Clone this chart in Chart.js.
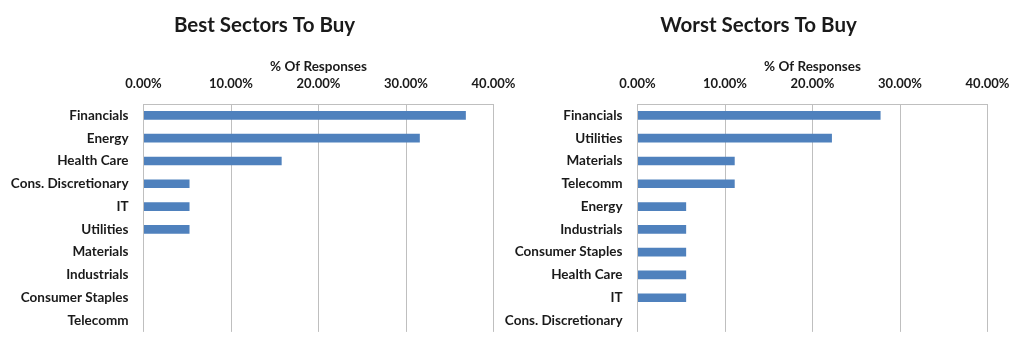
<!DOCTYPE html>
<html>
<head>
<meta charset="utf-8">
<script src="https://cdn.jsdelivr.net/npm/chart.js@4/dist/chart.umd.min.js"></script>
<style>
  html, body { margin: 0; padding: 0; background: #ffffff; }
  body { width: 1024px; height: 355px; position: relative; overflow: hidden; }
  .box { position: absolute; top: 0; width: 529px; height: 355px; }
  #boxBest { left: 0px; }
  #boxWorst { left: 494px; }
</style>
</head>
<body>
<div class="box" id="boxBest"><canvas id="best"></canvas></div>
<div class="box" id="boxWorst"><canvas id="worst"></canvas></div>
<script>
// ---- data ----
const bestTitle = 'Best Sectors To Buy';
const worstTitle = 'Worst Sectors To Buy';
const axisTitle = '% Of Responses';
const xTickLabels = ['0.00%', '10.00%', '20.00%', '30.00%', '40.00%'];

const bestCategories = ['Financials', 'Energy', 'Health Care', 'Cons. Discretionary', 'IT',
  'Utilities', 'Materials', 'Industrials', 'Consumer Staples', 'Telecomm'];
const bestValues = [36.84, 31.58, 15.79, 5.26, 5.26, 5.26, 0, 0, 0, 0];

const worstCategories = ['Financials', 'Utilities', 'Materials', 'Telecomm', 'Energy',
  'Industrials', 'Consumer Staples', 'Health Care', 'IT', 'Cons. Discretionary'];
const worstValues = [27.78, 22.22, 11.11, 11.11, 5.56, 5.56, 5.56, 5.56, 5.56, 0];

// ---- chart ----
const FONT = 'Lato, "Open Sans", sans-serif';
const TEXT = '#1a1a1a';
const GRID = '#bfbfbf';
const BAR = '#4f81bd';

const TITLE_PAD_TOP = 13.5, TITLE_SIZE = 20.5, TITLE_PAD_BOTTOM = 0;
const TITLE_BLOCK = TITLE_PAD_TOP + TITLE_SIZE * 1.2 + TITLE_PAD_BOTTOM;
const PLOT_TOP = 104;

function makeChart(id, title, categories, values) {
  return new Chart(document.getElementById(id), {
    type: 'bar',
    data: {
      labels: categories,
      datasets: [{
        data: values,
        backgroundColor: BAR,
        borderWidth: 0,
        barPercentage: 0.38,
        categoryPercentage: 1.0
      }]
    },
    options: {
      indexAxis: 'y',
      responsive: true,
      maintainAspectRatio: false,
      animation: false,
      layout: { padding: { left: 0, right: 0, top: 0, bottom: 15 } },
      plugins: {
        legend: { display: false },
        tooltip: { enabled: false },
        title: {
          display: true,
          text: title,
          color: TEXT,
          font: { family: FONT, size: TITLE_SIZE, weight: 'bold', lineHeight: 1.2 },
          padding: { top: TITLE_PAD_TOP, bottom: TITLE_PAD_BOTTOM }
        }
      },
      scales: {
        x: {
          position: 'top',
          min: 0,
          max: 40,
          afterBuildTicks: (axis) => {
            axis.ticks = xTickLabels.map((_, i) => ({ value: i * 10 }));
          },
          afterFit: (axis) => { axis.height = PLOT_TOP - TITLE_BLOCK; },
          grid: { color: GRID, lineWidth: 1, drawTicks: false },
          border: { display: true, color: GRID, width: 1 },
          ticks: {
            color: TEXT,
            padding: 12,
            font: { family: FONT, size: 13, weight: 'bold' },
            callback: (v, i) => xTickLabels[i]
          },
          title: {
            display: true,
            text: axisTitle,
            color: TEXT,
            font: { family: FONT, size: 13.5, weight: 'bold', lineHeight: 1.2 },
            padding: { top: 20, bottom: 0 }
          }
        },
        y: {
          afterFit: (axis) => { axis.width = 143.5; },
          grid: { display: false, drawTicks: false },
          border: { display: false },
          ticks: {
            color: TEXT,
            padding: 15,
            font: { family: FONT, size: 13.5, weight: 'bold' }
          }
        },
        yRight: {
          type: 'linear',
          axis: 'y',
          position: 'right',
          min: 0,
          max: 1,
          afterFit: (axis) => { axis.width = 35.5; },
          grid: { display: false, drawTicks: false },
          border: { display: false },
          ticks: { display: false }
        }
      }
    }
  });
}

makeChart('best', bestTitle, bestCategories, bestValues);
makeChart('worst', worstTitle, worstCategories, worstValues);
</script>
</body>
</html>
